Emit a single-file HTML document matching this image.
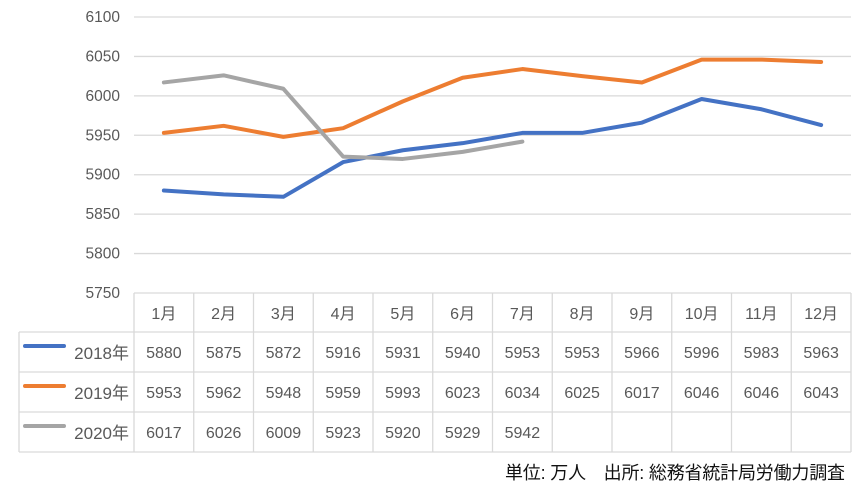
<!DOCTYPE html>
<html><head><meta charset="utf-8"><style>
body{margin:0;background:#fff;width:863px;height:496px;overflow:hidden}
svg{display:block}
text{font-family:"Liberation Sans","Noto Sans CJK JP",sans-serif;fill:#595959}
</style></head><body>
<svg id="s" width="863" height="496" xmlns="http://www.w3.org/2000/svg"></svg>
<script>
const s=document.getElementById('s');
let h='';
const y=v=>293-(v-5750)*276/350;
const X0=134,W=59.75;
for(let v=5750;v<=6100;v+=50){const yy=y(v);
 if(v>5750)h+=`<line x1="${X0}" x2="851" y1="${yy}" y2="${yy}" stroke="#d9d9d9" stroke-width="1.3"/>`;
 h+=`<text x="120" y="${yy+5}" font-size="15.5" text-anchor="end">${v}</text>`;}
const rows=[293,332,372,412,452];
h+=`<line x1="${X0}" x2="851" y1="293" y2="293" stroke="#d9d9d9" stroke-width="1.3"/>`;
for(let i=1;i<rows.length;i++)h+=`<line x1="19" x2="851" y1="${rows[i]}" y2="${rows[i]}" stroke="#d9d9d9" stroke-width="1.3"/>`;
h+=`<line x1="19" x2="19" y1="332" y2="452" stroke="#d9d9d9" stroke-width="1.3"/>`;
for(let i=0;i<=12;i++){const x=X0+i*W;h+=`<line x1="${x}" x2="${x}" y1="293" y2="452" stroke="#d9d9d9" stroke-width="1.3"/>`;}
const data=[[5880,5875,5872,5916,5931,5940,5953,5953,5966,5996,5983,5963],
[5953,5962,5948,5959,5993,6023,6034,6025,6017,6046,6046,6043],
[6017,6026,6009,5923,5920,5929,5942]];
const cols=['#4472c4','#ed7d31','#a5a5a5'],names=['2018年','2019年','2020年'];
for(let i=0;i<12;i++)h+=`<text x="${X0+W*i+W/2}" y="319" font-size="16" text-anchor="middle">${i+1}月</text>`;
data.forEach((d,r)=>{
 const cy=(rows[r+1]+rows[r+2])/2;
 h+=`<line x1="25" x2="64" y1="${cy-6}" y2="${cy-6}" stroke="${cols[r]}" stroke-width="4" stroke-linecap="round"/>`;
 h+=`<text x="129" y="${cy+7}" font-size="17" text-anchor="end">${names[r]}</text>`;
 d.forEach((v,i)=>h+=`<text x="${X0+W*i+W/2}" y="${cy+6}" font-size="16" text-anchor="middle">${v}</text>`);
 h+=`<polyline fill="none" stroke="${cols[r]}" stroke-width="4" stroke-linejoin="round" stroke-linecap="round" points="${d.map((v,i)=>(X0+W*i+W/2)+','+y(v)).join(' ')}"/>`;
});
h+=`<text x="845" y="479" font-size="18" text-anchor="end" textLength="340" style="fill:#111">単位: 万人　出所: 総務省統計局労働力調査</text>`;
s.innerHTML=h;
</script>
</body></html>
